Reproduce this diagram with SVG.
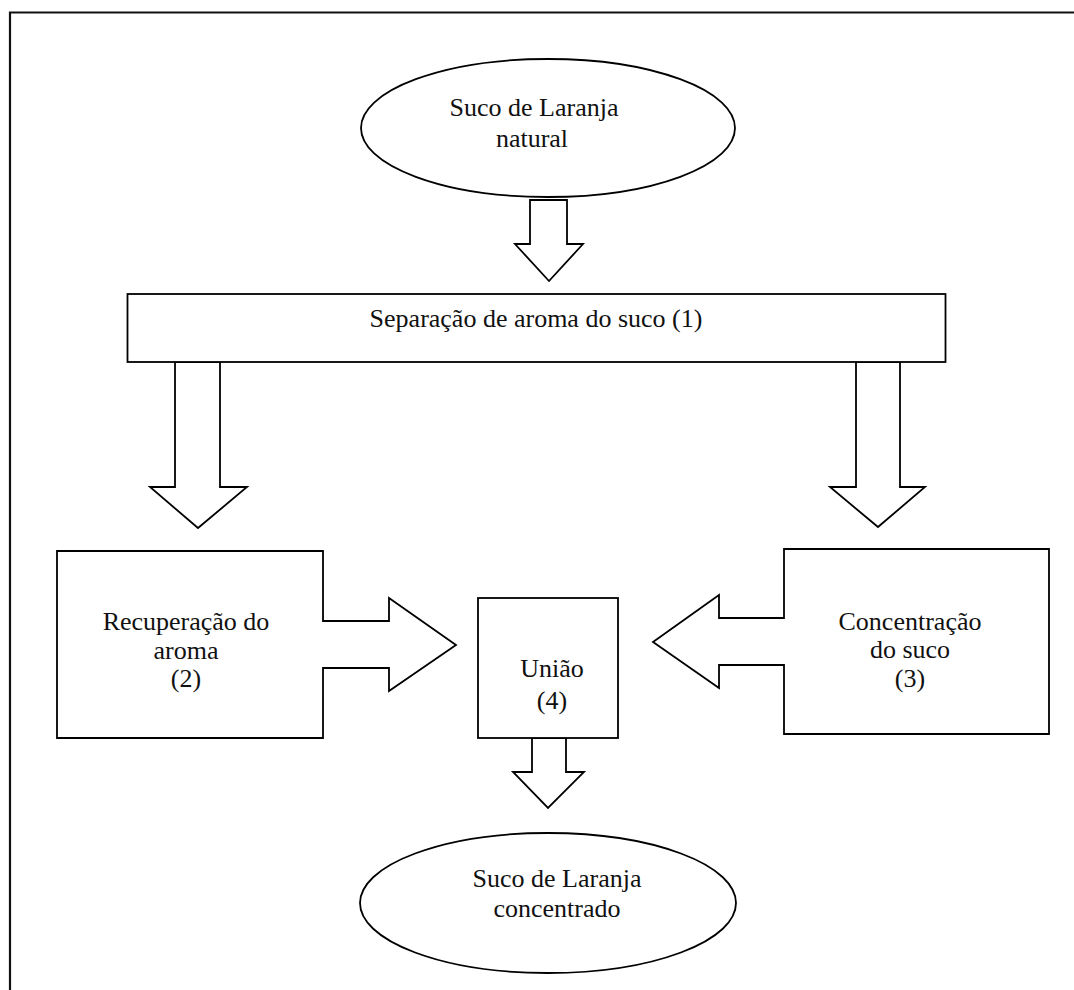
<svg xmlns="http://www.w3.org/2000/svg" width="1074" height="990" viewBox="0 0 1074 990">
  <style>
    .shape { fill: #ffffff; stroke: #000000; stroke-width: 1.8; stroke-linejoin: miter; }
    .label { font-family: "Liberation Serif", Tinos, "Times New Roman", "DejaVu Serif", serif; font-size: 26px; fill: #111111; text-anchor: middle; }
    .frame { fill: none; stroke: #111111; stroke-width: 2.2; }
  </style>
  <rect width="1074" height="990" fill="#ffffff"/>
  <!-- page frame: left and top edges -->
  <path class="frame" d="M10,990 V12.5 H1074"/>

  <g id="connectors">
    <!-- natural juice to aroma separation -->
    <polygon class="shape" points="530,200 567,200 567,244 583,244 549,281 515,244 530,244"/>
    <!-- separation to aroma recovery -->
    <polygon class="shape" points="175,362 220,362 220,487 247,487 198,528 150,487 175,487"/>
    <!-- separation to juice concentration -->
    <polygon class="shape" points="856,362 900,362 900,487 925,487 878,527 830,487 856,487"/>
    <!-- union to concentrated juice -->
    <polygon class="shape" points="532,738 566,738 566,772 584,772 548,808 513,772 532,772"/>
  </g>

  <g id="node-natural">
    <ellipse class="shape" cx="548" cy="128" rx="187" ry="69"/>
    <text class="label" x="534" y="116">Suco de Laranja</text>
    <text class="label" x="532" y="147">natural</text>
  </g>

  <g id="node-separation">
    <rect class="shape" x="127.5" y="294" width="818" height="68"/>
    <text class="label" x="536" y="327">Separação de aroma do suco (1)</text>
  </g>

  <g id="node-aroma">
    <polygon class="shape" points="57,551 323,551 323,621 389,621 389,598 456,645 389,691 389,668 323,668 323,738 57,738"/>
    <text class="label" x="186" y="630">Recuperação do</text>
    <text class="label" x="186" y="659">aroma</text>
    <text class="label" x="186" y="687">(2)</text>
  </g>

  <g id="node-concentration">
    <polygon class="shape" points="1049,549 784,549 784,618 719,618 719,595 653,642 719,688 719,665 784,665 784,734 1049,734"/>
    <text class="label" x="910" y="630">Concentração</text>
    <text class="label" x="910" y="658">do suco</text>
    <text class="label" x="910" y="687">(3)</text>
  </g>

  <g id="node-union">
    <rect class="shape" x="478" y="598" width="140" height="140"/>
    <text class="label" x="552" y="677">União</text>
    <text class="label" x="552" y="709">(4)</text>
  </g>

  <g id="node-concentrated">
    <ellipse class="shape" cx="548" cy="903" rx="188" ry="70"/>
    <text class="label" x="557" y="887">Suco de Laranja</text>
    <text class="label" x="557" y="917">concentrado</text>
  </g>
</svg>
